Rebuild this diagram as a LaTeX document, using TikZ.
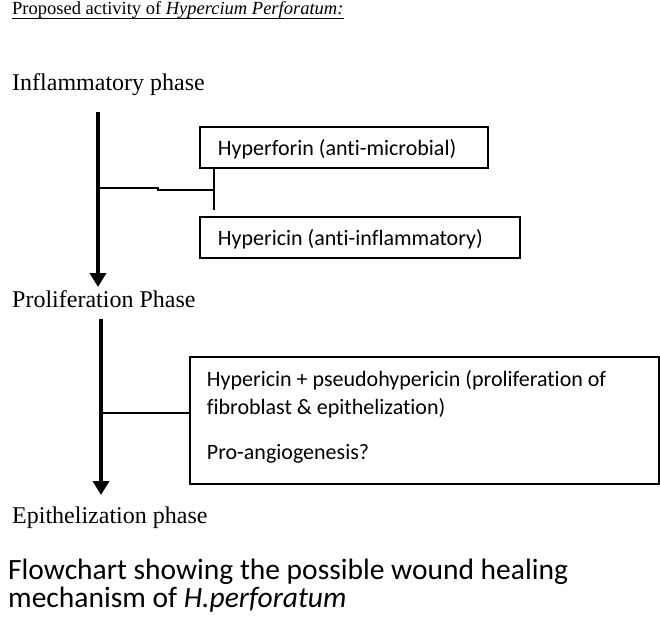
\documentclass[tikz,border=0pt]{standalone}
\usepackage{fontspec}
\setmainfont{Liberation Serif}
\newfontfamily\calib[Ligatures=NoCommon]{Carlito}
\newfontfamily\calibcap[Ligatures=NoCommon]{Carlito}
\usetikzlibrary{arrows.meta}
\begin{document}
\begin{tikzpicture}[x=1pt,y=-1pt,
  phase/.style={anchor=base west, inner sep=0pt, font=\fontsize{24}{28}\selectfont},
  box/.style={draw, line width=1.8pt, anchor=north west, inner ysep=0pt, font=\calib\fontsize{22}{28}\selectfont},
  flow/.style={line width=4pt, -{Triangle[width=16pt,length=14pt]}},
  link/.style={line width=2pt}]
\fill[white] (0,0) rectangle (660,634);
\useasboundingbox (0,0) rectangle (660,634);

% title
\node[anchor=base west, inner sep=0pt, font=\fontsize{18.5}{22}\selectfont] (title) at (12,15)
  {Proposed activity of \textit{Hypercium Perforatum:}};
\draw[line width=1.2pt] ([yshift=-3.5pt]title.base west) -- ([yshift=-3.5pt]title.base east);

% phases
\node[phase] (p1) at (12,90) {Inflammatory phase};
\node[phase] (p2) at (12,307) {Proliferation Phase};
\node[phase] (p3) at (12,523) {Epithelization phase};

% boxes
\node[box, inner xsep=18pt, minimum width=288pt, minimum height=41pt, text height=17pt, text depth=0pt] (hf) at (199,126)
  {\makebox[252pt][l]{Hyperforin (anti-microbial)}};
\node[box, inner xsep=18pt, minimum width=320pt, minimum height=41pt, text height=17pt, text depth=0pt] (hc) at (199,216)
  {\makebox[284pt][l]{Hypericin (anti-inflammatory)}};
\node[box, inner xsep=17pt, minimum width=469pt, minimum height=127pt, text height=12pt, text depth=79pt] (hp) at (189,356)
  {\parbox[t]{435pt}{\raggedright Hypericin + pseudohypericin (proliferation of\\ fibroblast \& epithelization)\\[17pt] Pro-angiogenesis?}};

% arrows
\coordinate (a1s) at (98,112);
\coordinate (a1e) at (98,287);
\draw[flow] (a1s) -- (a1e);
\coordinate (a2s) at (101,319);
\coordinate (a2e) at (101,495);
\draw[flow] (a2s) -- (a2e);

% connector to first two boxes
\coordinate (j1) at (98,188);
\coordinate (k1) at (158,188);
\coordinate (k2) at (158,190);
\coordinate (t1) at (214,190);
\coordinate (t2) at (214,210);
\draw[link] (j1) -- (k1) -- (k2) -- (t1);
\draw[link] (hf.south -| t1) -- (t2);

% connector to third box
\coordinate (j2) at (101,413);
\draw[link] (j2) -- (j2 -| hp.west);

% caption
\node[anchor=base west, inner sep=0pt, font=\calibcap\fontsize{29.5}{28}\selectfont] (cap) at (8,579)
  {\parbox[t]{645pt}{\raggedright Flowchart showing the possible wound healing\\ mechanism of \textit{H.perforatum}}};
\end{tikzpicture}
\end{document}
